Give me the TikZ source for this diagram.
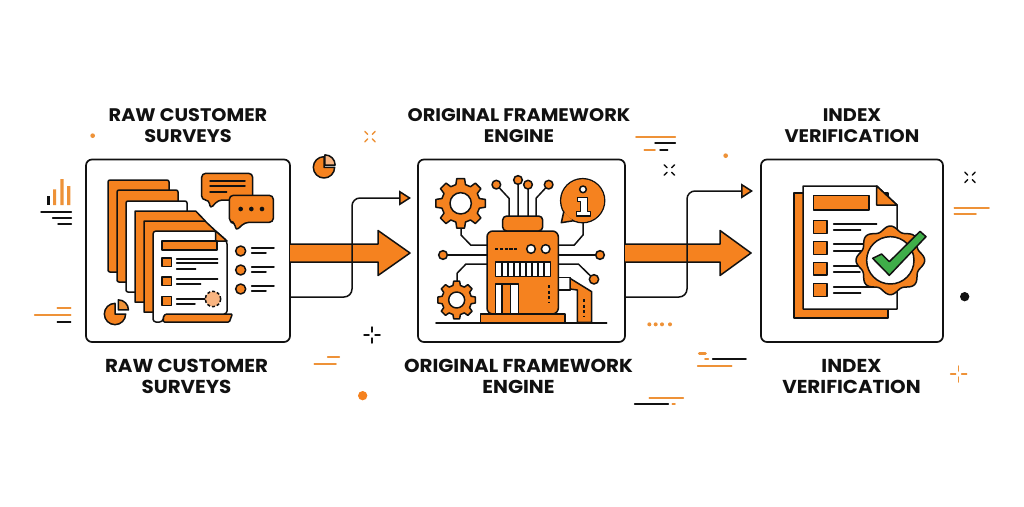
\documentclass[tikz,border=0pt]{standalone}
\usepackage{fontspec}
\setmainfont{Poppins}[FakeStretch=1.06]
\usetikzlibrary{arrows.meta,calc}
\definecolor{brand}{HTML}{F5821F}
\definecolor{peach}{HTML}{F9B581}
\definecolor{soft}{HTML}{EE9238}
\definecolor{tick}{HTML}{3FAE49}
\definecolor{ink}{HTML}{111111}
\newcommand{\gearshape}[6]{% x y router rinner rhole n
  \pgfmathsetmacro{\gstep}{360/#6}
  \filldraw[ol,fill=brand] ({#1+#4*cos(-0.32*\gstep)},{#2+#4*sin(-0.32*\gstep)})
  \foreach \gi in {1,...,#6}{
    -- ({#1+#3*cos((\gi-1)*\gstep-0.2*\gstep)},{#2+#3*sin((\gi-1)*\gstep-0.2*\gstep)})
    -- ({#1+#3*cos((\gi-1)*\gstep+0.2*\gstep)},{#2+#3*sin((\gi-1)*\gstep+0.2*\gstep)})
    -- ({#1+#4*cos((\gi-1)*\gstep+0.32*\gstep)},{#2+#4*sin((\gi-1)*\gstep+0.32*\gstep)})
    -- ({#1+#4*cos(\gi*\gstep-0.32*\gstep)},{#2+#4*sin(\gi*\gstep-0.32*\gstep)})
  } -- cycle;
  \filldraw[ol,fill=white] (#1,#2) circle (#5);
}
\newcommand{\sparkX}[3]{% x y colour (zoom units)
  \foreach \sa in {45,135,225,315}{
    \draw[#3,line width=1.5pt,line cap=round] ({#1+10*cos(\sa)},{#2+10*sin(\sa)}) -- ({#1+22*cos(\sa)},{#2+22*sin(\sa)});
  }
}
\newcommand{\plusX}[3]{% x y colour (zoom units)
  \foreach \sa in {0,90,180,270}{
    \draw[#3,line width=1.5pt,line cap=round] ({#1+9*cos(\sa)},{#2+9*sin(\sa)}) -- ({#1+24*cos(\sa)},{#2+24*sin(\sa)});
  }
}
\newcommand{\pieX}[5]{% x y r sx sy
  \filldraw[ol,fill=brand] (#1,#2) -- ++(#3,0) arc (0:270:#3) -- cycle;
  \filldraw[ol,fill=#5] (#4) -- ++(#3*0.95,0) arc (0:-90:#3*0.95) -- cycle;
}
\tikzset{
  ol/.style={draw=ink,line width=1.5pt,line join=round},
  ln/.style={draw=ink,line width=1.5pt,line cap=round},
  lo/.style={draw=soft,line width=1.6pt,line cap=round},
  panel/.style={draw=ink,line width=1.7pt,rounded corners=6pt,fill=white,minimum height=182.5pt,outer sep=0pt,inner sep=0pt},
  title/.style={font=\bfseries\fontsize{18.2}{21}\selectfont,text=ink,align=center,inner sep=0pt},
  titleb/.style={font=\bfseries\fontsize{18.7}{21}\selectfont,text=ink,align=center,inner sep=0pt},
  bigarrow/.style={fill=brand,draw=none},
  conn/.style={draw=ink,line width=1.5pt,rounded corners=8pt,-{Triangle[length=12pt,width=15pt,fill=brand]}},
  hub/.style={ol,fill=brand},
}
\begin{document}
\begin{tikzpicture}[x=1pt,y=-1pt]
\useasboundingbox[fill=white] (0,0) rectangle (1024,506);
% titles
\node[title] (t1) at (188,125.5) {RAW CUSTOMER\\SURVEYS};
\node[title] (t2) at (519,125.5) {ORIGINAL FRAMEWORK\\ENGINE};
\node[title] (t3) at (852,125.5) {INDEX\\VERIFICATION};
\node[titleb] (b1) at (186.5,376.5) {RAW CUSTOMER\\SURVEYS};
\node[titleb] (b2) at (518.5,376.5) {ORIGINAL FRAMEWORK\\ENGINE};
\node[titleb] (b3) at (851.5,376.5) {INDEX\\VERIFICATION};
% panels
\node[panel,minimum width=204pt] (box1) at (188,250.75) {};
\node[panel,minimum width=207pt] (box2) at (521.5,250.75) {};
\node[panel,minimum width=182pt] (box3) at (852,250.75) {};
% levels and free ends
\coordinate (ytop) at (0,244);
\coordinate (ybot) at (0,262);
\coordinate (ylow) at (0,297);
\coordinate (ha1t) at (378,230.5); \coordinate (ha1b) at (378,275.5); \coordinate (tipA) at (410,253);
\coordinate (ha2t) at (720,230.5); \coordinate (ha2b) at (720,275.5); \coordinate (tipB) at (751,253);
\coordinate (bendA) at (352,198); \coordinate (endA) at (411,198);
\coordinate (bendB) at (687,191); \coordinate (endB) at (753,191);
% big arrows
\fill[bigarrow] (box1.east |- ytop) -- (ha1t |- ytop) -- (ha1t) -- (tipA) -- (ha1b) -- (ha1b |- ybot) -- (box1.east |- ybot) -- cycle;
\draw[ol] (box1.east |- ytop) -- (ha1t |- ytop) -- (ha1t) -- (tipA) -- (ha1b) -- (ha1b |- ybot) -- (box1.east |- ybot);
\fill[bigarrow] (box2.east |- ytop) -- (ha2t |- ytop) -- (ha2t) -- (tipB) -- (ha2b) -- (ha2b |- ybot) -- (box2.east |- ybot) -- cycle;
\draw[ol] (box2.east |- ytop) -- (ha2t |- ytop) -- (ha2t) -- (tipB) -- (ha2b) -- (ha2b |- ybot) -- (box2.east |- ybot);
% thin connectors
\draw[conn] (box1.east |- ylow) -| (bendA) -- (endA);
\draw[conn] (box2.east |- ylow) -| (bendB) -- (endB);
% ---------- panel 1
\begin{scope}[shift={(30,90)},scale=1/3]
 \filldraw[ol,fill=brand,rounded corners=2pt] (234,546) -- (234,270) -- (417,270) -- (417,546) -- cycle;
 \filldraw[ol,fill=brand,rounded corners=2pt] (261,576) -- (261,300) -- (444,300) -- (444,576) -- cycle;
 \filldraw[ol,fill=white,rounded corners=2pt] (288,606) -- (288,333) -- (471,333) -- (471,606) -- cycle;
 \filldraw[ol,fill=brand] (315,636) -- (315,363) -- (497,363) -- (525,392) -- (525,636) -- cycle;
 \filldraw[ol,fill=brand] (342,666) -- (342,393) -- (525,393) -- (557,423) -- (557,666) -- cycle;
 \filldraw[ol,fill=brand,rounded corners=1pt] (400,696) -- (598,696) -- (607,672) -- (400,672) -- cycle;
 \filldraw[ol,fill=white,rounded corners=3pt] (369,696) -- (369,423) -- (557,423) -- (591,453) -- (591,672) -- (402,672) -- (398,696) -- cycle;
 \filldraw[ol,fill=brand] (557,423) -- (591,453) -- (557,453) -- cycle;
 \filldraw[ol,fill=brand] (396,453) rectangle (561,480);
 \foreach \yy in {504,561,620}{\filldraw[ol,fill=brand] (396,\yy) rectangle (425,\yy+26);}
 \draw[ln] (440,507)--(563,507) (440,519)--(563,519) (440,537)--(497,537);
 \draw[ln] (440,567)--(563,567) (440,582)--(512,582);
 \draw[ln] (440,627)--(530,627) (440,642)--(495,642);
 \filldraw[draw=ink,line width=1.5pt,fill=peach,dash pattern=on 3pt off 2pt] (549,627) circle (23);
 % speech
 \filldraw[ol,fill=brand,rounded corners=4pt] (515,250) -- (668,250) -- (668,330) -- (565,330) -- (540,357) -- (538,330) -- (515,330) -- cycle;
 \draw[ln] (540,273)--(645,273) (540,288)--(645,288) (540,306)--(590,306);
 \filldraw[ol,fill=brand,rounded corners=4pt] (598,316) -- (730,316) -- (730,397) -- (645,397) -- (617,423) -- (615,397) -- (598,397) -- cycle;
 \fill[ink] (632,357) circle (7) (664,357) circle (7) (696,357) circle (7);
 % list
 \foreach \yy in {483,540,597}{
   \filldraw[ol,fill=brand] (632,\yy) circle (15);
   \draw[ln] (665,\yy-9)--(732,\yy-9) (665,\yy+6)--(708,\yy+6);
 }
 % pie in the box
 \coordinate (pa) at (265,660);
 \pieX{255}{672}{32}{pa}{soft}
 % decorations to the left
 \fill[ink] (50,317) rectangle (60,345);
 \fill[soft] (69,298) rectangle (78,345) (91,267) rectangle (101,345) (111,288) rectangle (121,345);
 \draw[ln] (33,366)--(124,366) (68,384)--(124,384) (84,402)--(124,402);
 \fill[soft] (188,137) circle (7);
 \draw[lo] (14,675)--(122,675) (82,654)--(122,654);
 \draw[ln] (82,696)--(122,696);
 \draw[lo] (853,822)--(918,822) (893,801)--(928,801);
 \coordinate (pb) at (885,225);
 \pieX{882}{232}{32}{pb}{peach}
\end{scope}
% ---------- panel 2
\begin{scope}[shift={(340,90)},scale=1/3]
 % leads
 \draw[ln] (469,284)--(507,325)--(507,378) (534,270)--(534,378) (564,284)--(564,378) (626,284)--(588,325)--(588,378);
 \draw[ln] (363,410)--(363,435)--(392,465)--(441,465);
 \draw[ln] (309,495)--(441,495) (655,495)--(780,495);
 \draw[ln] (729,395)--(729,435)--(703,465)--(655,465);
 \draw[ln] (351,575)--(351,550)--(378,522)--(441,522);
 \draw[ln] (655,522)--(715,522)--(762,568);
 \foreach \px/\py in {469/284,534/270,564/284,626/284,309/495,780/495}{\filldraw[hub] (\px,\py) circle (13);}
 \filldraw[hub] (762,568) circle (14);
 \gearshape{362}{340}{75}{58}{32}{8}
 \gearshape{350}{630}{57}{45}{24}{8}
 % side building
 \filldraw[ol,fill=white] (655,562) -- (692,562) -- (692,600) -- (655,600) -- cycle;
 \filldraw[ol,fill=brand] (690,565) -- (755,605) -- (755,697) -- (712,697) -- (712,600) -- (690,597) -- cycle;
 \draw[ink,line width=1.5pt,dash pattern=on 3pt off 2.5pt] (732,628)--(732,680);
 % tower
 \filldraw[ol,fill=brand,rounded corners=4pt] (488,423) -- (488,378) -- (608,378) -- (608,423) -- cycle;
 \filldraw[ol,fill=brand,rounded corners=6pt] (441,672) -- (441,423) -- (655,423) -- (655,672) -- cycle;
 \filldraw[ol,fill=brand] (422,672) rectangle (675,699);
 \draw[ink,line width=1.5pt,dash pattern=on 3.2pt off 1.6pt] (465,477)--(535,477);
 \filldraw[ol,fill=white] (573,477) circle (13) (617,477) circle (13);
 \filldraw[ol,fill=white] (466,516) rectangle (632,560);
 \foreach \gx in {1,...,8}{\draw[ink,line width=1.2pt] (468+\gx*18,516)--(468+\gx*18,560);}
 \filldraw[ol,fill=white] (466,582) rectangle (536,672);
 \filldraw[ol,fill=brand] (486,582) rectangle (512,672);
 \draw[ink,line width=1.5pt,dash pattern=on 3pt off 2.5pt] (627,585)--(627,637);
 \draw[ln,line width=1.6pt] (288,699)--(800,699);
 % info bubble
 \filldraw[ol,fill=brand] (728,332) circle (66);
 \filldraw[ol,fill=brand] (672,362) -- (664,398) -- (702,392) -- cycle;
 \fill[brand] (728,332) circle (64);
 \filldraw[ol,fill=white] (729,298) circle (10);
 \filldraw[ol,fill=white] (712,322) -- (742,322) -- (742,365) -- (752,365) -- (752,378) -- (710,378) -- (710,365) -- (722,365) -- (722,334) -- (712,334) -- cycle;
 % decorations
 \sparkX{90}{140}{soft}
 \sparkX{988}{240}{ink}
 \plusX{96}{735}{ink}
 \fill[soft] (928,703) circle (6) (947,703) circle (6) (966,703) circle (6) (990,703) circle (6);
 \fill[brand] (68,917) circle (14);
 \draw[lo] (888,141)--(1006,141) (913,180)--(945,180);
 \draw[ln] (945,159)--(1006,159) (960,180)--(983,180);
 \draw[lo] (928,924)--(1030,924) (997,942)--(1005,942);
 \draw[ln] (884,942)--(985,942);
\end{scope}
% ---------- panel 3
\begin{scope}[shift={(670,90)},scale=1/3]
 \filldraw[ol,fill=brand] (372,309) rectangle (654,684);
 \filldraw[ol,fill=white] (399,657) -- (399,288) -- (620,288) -- (681,345) -- (681,657) -- cycle;
 \filldraw[ol,fill=brand] (620,288) -- (681,345) -- (620,345) -- cycle;
 \filldraw[ol,fill=brand] (430,316) rectangle (597,360);
 \foreach \yy/\hh in {392/38,455/38,517/38,580/40}{\filldraw[ol,fill=brand] (430,\yy) rectangle (471,\yy+\hh);}
 \draw[ln] (491,402)--(620,402) (491,420)--(572,420);
 \draw[ln] (491,462)--(590,462) (491,483)--(590,483);
 \draw[ln] (491,528)--(570,528) (491,546)--(570,546);
 \draw[ln] (491,591)--(620,591) (491,609)--(572,609);
 \filldraw[ol,fill=brand] plot[domain=0:360,samples=145] ({661+(96+7*cos(8*\x))*cos(\x)},{511+(96+7*cos(8*\x))*sin(\x)}) -- cycle;
 \filldraw[ol,fill=white] (661,511) circle (71);
 \filldraw[ol,fill=tick] (608,505) -- (635,492) -- (658,515) -- (750,424) -- (768,440) -- (658,556) -- cycle;
 % decorations
 \sparkX{900}{262}{ink}
 \draw[lo] (853,354)--(957,354) (853,372)--(918,372);
 \fill[ink] (884,620) circle (14);
 \plusX{866}{852}{soft}
 \fill[soft] (167,197) circle (7);
 \draw[lo,line width=3pt] (88,791)--(106,791);
 \draw[lo] (105,807)--(115,807) (83,828)--(185,828);
 \draw[ln] (128,807)--(228,807);
\end{scope}
\end{tikzpicture}
\end{document}
